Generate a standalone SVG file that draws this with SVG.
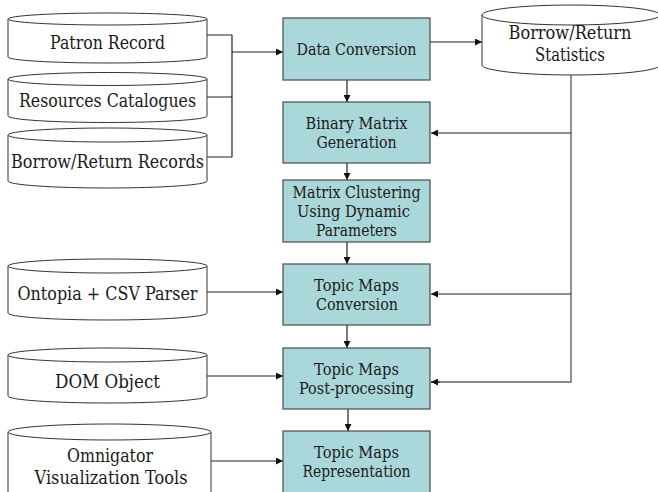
<svg xmlns="http://www.w3.org/2000/svg" width="658" height="492" viewBox="0 0 658 492" font-family="DejaVu Serif, Liberation Serif, serif">
  <style>
    .proc { fill: #aad7d9; stroke: #4a4a4a; stroke-width: 1.2; }
    .db { fill: #ffffff; stroke: #333333; stroke-width: 1; }
    .wire { fill: none; stroke: #222222; stroke-width: 1.2; }
    .bus { fill: none; stroke: #666666; stroke-width: 1.4; }
  </style>
  <defs>
    <marker id="arrow" viewBox="0 0 8 8" refX="8" refY="4" markerWidth="7" markerHeight="7" markerUnits="userSpaceOnUse" orient="auto">
      <path d="M0,0 L8,4 L0,8 z" fill="#111111"/>
    </marker>
  </defs>

  <rect width="658" height="492" fill="#ffffff"/>

  <!-- connectors -->
  <g id="connectors">
    <!-- three source stores merge into Data Conversion -->
    <path class="wire" d="M207,35 H232 M207,97 H232 M207,157 H232 M232,35 V157"/>
    <path class="wire" d="M232,52 H283" marker-end="url(#arrow)"/>
    <!-- Data Conversion to statistics store -->
    <path class="wire" d="M430,42 H482" marker-end="url(#arrow)"/>
    <!-- main pipeline -->
    <path class="wire" d="M347,80 V102" marker-end="url(#arrow)"/>
    <path class="wire" d="M347,163 V180" marker-end="url(#arrow)"/>
    <path class="wire" d="M347,242 V264" marker-end="url(#arrow)"/>
    <path class="wire" d="M347,325 V348" marker-end="url(#arrow)"/>
    <path class="wire" d="M348,409 V431" marker-end="url(#arrow)"/>
    <!-- statistics feedback bus -->
    <path class="bus" d="M571,75 V382 H431"/>
    <path class="wire" d="M571,133 H431" marker-end="url(#arrow)"/>
    <path class="wire" d="M571,294 H431" marker-end="url(#arrow)"/>
    <path class="wire" d="M440,382 H431" marker-end="url(#arrow)"/>
    <!-- side inputs -->
    <path class="wire" d="M207,292 H283" marker-end="url(#arrow)"/>
    <path class="wire" d="M207,376 H283" marker-end="url(#arrow)"/>
    <path class="wire" d="M211,461 H283" marker-end="url(#arrow)"/>
  </g>

  <!-- data stores (cylinders) -->
  <g font-size="18" fill="#1a1a1a" text-anchor="middle">
    <g id="patron-record">
      <path class="db" d="M8,19 A99.5,6 0 0 1 207,19 V57 A99.5,6 0 0 1 8,57 Z"/>
      <path class="db" d="M8,19 A99.5,6 0 0 0 207,19"/>
      <text x="107.5" y="49" textLength="115" lengthAdjust="spacingAndGlyphs">Patron Record</text>
    </g>
    <g id="resources-catalogues">
      <path class="db" d="M8,79 A99.5,6.5 0 0 1 207,79 V116 A99.5,6.5 0 0 1 8,116 Z"/>
      <path class="db" d="M8,79 A99.5,6.5 0 0 0 207,79"/>
      <text x="107.5" y="107" textLength="177" lengthAdjust="spacingAndGlyphs">Resources Catalogues</text>
    </g>
    <g id="borrow-return-records">
      <path class="db" d="M8,135 A99.5,7 0 0 1 207,135 V181 A99.5,7 0 0 1 8,181 Z"/>
      <path class="db" d="M8,135 A99.5,7 0 0 0 207,135"/>
      <text x="107.5" y="168" textLength="193" lengthAdjust="spacingAndGlyphs">Borrow/Return Records</text>
    </g>
    <g id="borrow-return-statistics">
      <path class="db" d="M482,15 A89,10 0 0 1 660,15 V65 A89,10 0 0 1 482,65 Z"/>
      <path class="db" d="M482,15 A89,10 0 0 0 660,15"/>
      <text x="570" y="39" textLength="123" lengthAdjust="spacingAndGlyphs">Borrow/Return</text>
      <text x="570" y="61" textLength="70" lengthAdjust="spacingAndGlyphs">Statistics</text>
    </g>
    <g id="ontopia-csv-parser">
      <path class="db" d="M8,266 A99.5,7 0 0 1 207,266 V313 A99.5,7 0 0 1 8,313 Z"/>
      <path class="db" d="M8,266 A99.5,7 0 0 0 207,266"/>
      <text x="107.5" y="300" textLength="180" lengthAdjust="spacingAndGlyphs">Ontopia + CSV Parser</text>
    </g>
    <g id="dom-object">
      <path class="db" d="M8,355 A99.5,7 0 0 1 207,355 V396 A99.5,7 0 0 1 8,396 Z"/>
      <path class="db" d="M8,355 A99.5,7 0 0 0 207,355"/>
      <text x="107.5" y="388" textLength="105" lengthAdjust="spacingAndGlyphs">DOM Object</text>
    </g>
    <g id="omnigator-tools">
      <path class="db" d="M8,432 A101.5,8 0 0 1 211,432 V505 A101.5,8 0 0 1 8,505 Z"/>
      <path class="db" d="M8,432 A101.5,8 0 0 0 211,432"/>
      <text x="110" y="462" textLength="86" lengthAdjust="spacingAndGlyphs">Omnigator</text>
      <text x="111" y="484" textLength="153" lengthAdjust="spacingAndGlyphs">Visualization Tools</text>
    </g>
  </g>

  <!-- processing steps -->
  <g font-size="16" fill="#1a1a1a" text-anchor="middle">
    <g id="data-conversion">
      <rect class="proc" x="283" y="18" width="147" height="62"/>
      <text x="356.5" y="55" textLength="120" lengthAdjust="spacingAndGlyphs">Data Conversion</text>
    </g>
    <g id="binary-matrix-generation">
      <rect class="proc" x="283" y="102" width="147" height="61"/>
      <text x="356.5" y="129" textLength="102" lengthAdjust="spacingAndGlyphs">Binary Matrix</text>
      <text x="356.5" y="148" textLength="80" lengthAdjust="spacingAndGlyphs">Generation</text>
    </g>
    <g id="matrix-clustering">
      <rect class="proc" x="283" y="180" width="147" height="62"/>
      <text x="356.5" y="198" textLength="128" lengthAdjust="spacingAndGlyphs">Matrix Clustering</text>
      <text x="353.5" y="217" textLength="113" lengthAdjust="spacingAndGlyphs">Using Dynamic</text>
      <text x="356.5" y="236" textLength="81" lengthAdjust="spacingAndGlyphs">Parameters</text>
    </g>
    <g id="topic-maps-conversion">
      <rect class="proc" x="283" y="264" width="147" height="61"/>
      <text x="356.5" y="291" textLength="85" lengthAdjust="spacingAndGlyphs">Topic Maps</text>
      <text x="357" y="310" textLength="82" lengthAdjust="spacingAndGlyphs">Conversion</text>
    </g>
    <g id="topic-maps-post-processing">
      <rect class="proc" x="283" y="348" width="147" height="61"/>
      <text x="356.5" y="375" textLength="85" lengthAdjust="spacingAndGlyphs">Topic Maps</text>
      <text x="356.5" y="394" textLength="115" lengthAdjust="spacingAndGlyphs">Post-processing</text>
    </g>
    <g id="topic-maps-representation">
      <rect class="proc" x="283" y="431" width="147" height="70"/>
      <text x="356.5" y="458" textLength="85" lengthAdjust="spacingAndGlyphs">Topic Maps</text>
      <text x="356.5" y="477" textLength="108" lengthAdjust="spacingAndGlyphs">Representation</text>
    </g>
  </g>
</svg>
